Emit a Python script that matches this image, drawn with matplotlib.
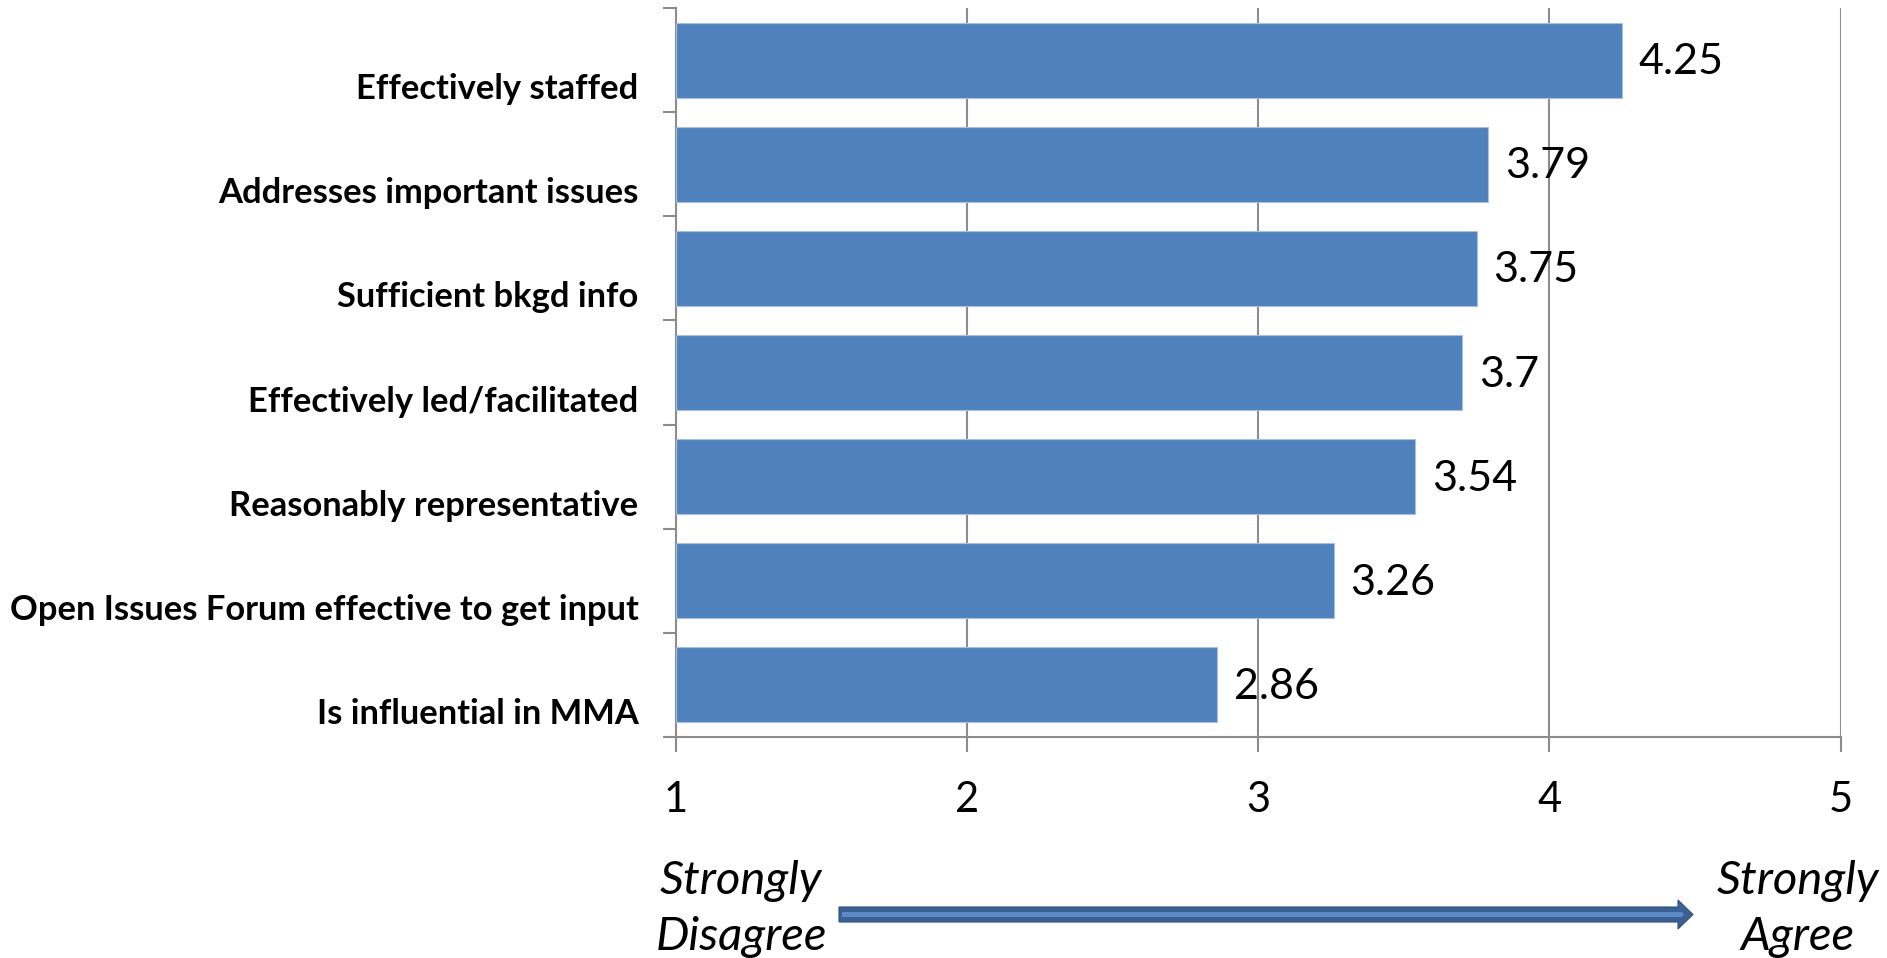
import matplotlib.pyplot as plt
from matplotlib.patches import Polygon
from matplotlib.transforms import ScaledTranslation

categories = [
    "Effectively staffed",
    "Addresses important issues",
    "Sufficient bkgd info",
    "Effectively led/facilitated",
    "Reasonably representative",
    "Open Issues Forum effective to get input",
    "Is influential in MMA",
]
scores = [4.25, 3.79, 3.75, 3.7, 3.54, 3.26, 2.86]
value_labels = ["4.25", "3.79", "3.75", "3.7", "3.54", "3.26", "2.86"]
x_ticks = [1, 2, 3, 4, 5]

W, H = 1887, 958
FONT = "Lato"
BAR = "#4F81BD"
GRID = "#8C8C8C"

fig = plt.figure(figsize=(W / 100, H / 100), dpi=100)
ax = fig.add_axes([676 / W, 1 - 737 / H, 1164.5 / W, (737 - 8) / H])

pos = list(range(len(categories)))
ax.barh(pos, [s - 1 for s in scores], left=1, height=0.72, color=BAR,
        edgecolor="#A7C0DE", linewidth=0.8, zorder=3)

ax.set_xlim(1, 5)
ax.set_ylim(len(categories) - 0.5, -0.5)

# vertical gridlines, drawn behind the bars
ax.set_xticks(x_ticks)
ax.set_xticklabels([str(t) for t in x_ticks], fontsize=30, fontfamily=FONT)
for t in x_ticks[1:]:
    ax.axvline(t, color=GRID, lw=1.5, zorder=1)
ax.tick_params(axis="x", direction="out", length=11, width=1.5, color=GRID,
               pad=21)

# category separators as minor ticks, labels sit low in each band
ax.set_yticks(pos)
ax.set_yticklabels(categories, fontsize=24.8, fontweight="bold", fontfamily=FONT)
ax.set_yticks([p - 0.5 for p in pos] + [pos[-1] + 0.5], minor=True)
ax.tick_params(axis="y", which="major", length=0, pad=27)
ax.tick_params(axis="y", which="minor", direction="out", length=9.5,
               width=1.5, color=GRID)
shift = ScaledTranslation(0, -26 / 100, fig.dpi_scale_trans)
for lab in ax.get_yticklabels():
    lab.set_transform(lab.get_transform() + shift)

for side in ("top", "right"):
    ax.spines[side].set_visible(False)
for side in ("left", "bottom"):
    ax.spines[side].set_color(GRID)
    ax.spines[side].set_linewidth(1.5)
ax.spines["bottom"].set_zorder(4)

for p, s, txt in zip(pos, scores, value_labels):
    ax.annotate(txt, (s, p), xytext=(12, -1.5), textcoords="offset points",
                ha="left", va="center", fontsize=31, fontfamily=FONT, zorder=5)

# scale anchors under the axis
fig.text(741 / W, 1 - 909 / H, "Strongly\nDisagree", ha="center", va="center",
         fontsize=34, style="italic", fontfamily=FONT, linespacing=1.42)
fig.text(1798 / W, 1 - 909 / H, "Strongly\nAgree", ha="center", va="center",
         fontsize=34, style="italic", fontfamily=FONT, linespacing=1.42)


def px(points):
    return [(x / W, 1 - y / H) for x, y in points]


outer = [(839, 907), (1678, 907), (1678, 900), (1693, 914.5),
         (1678, 929), (1678, 922), (839, 922)]
inner = [(842, 912), (1682, 912), (1684, 914.5), (1682, 917), (842, 917)]
fig.patches.append(Polygon(px(outer), closed=True, transform=fig.transFigure,
                           facecolor="#3A6192", edgecolor="#2E5180", lw=0.8))
fig.patches.append(Polygon(px(inner), closed=True, transform=fig.transFigure,
                           facecolor="#5B8BC6", edgecolor="none"))

fig.savefig("out.png", dpi=100)
